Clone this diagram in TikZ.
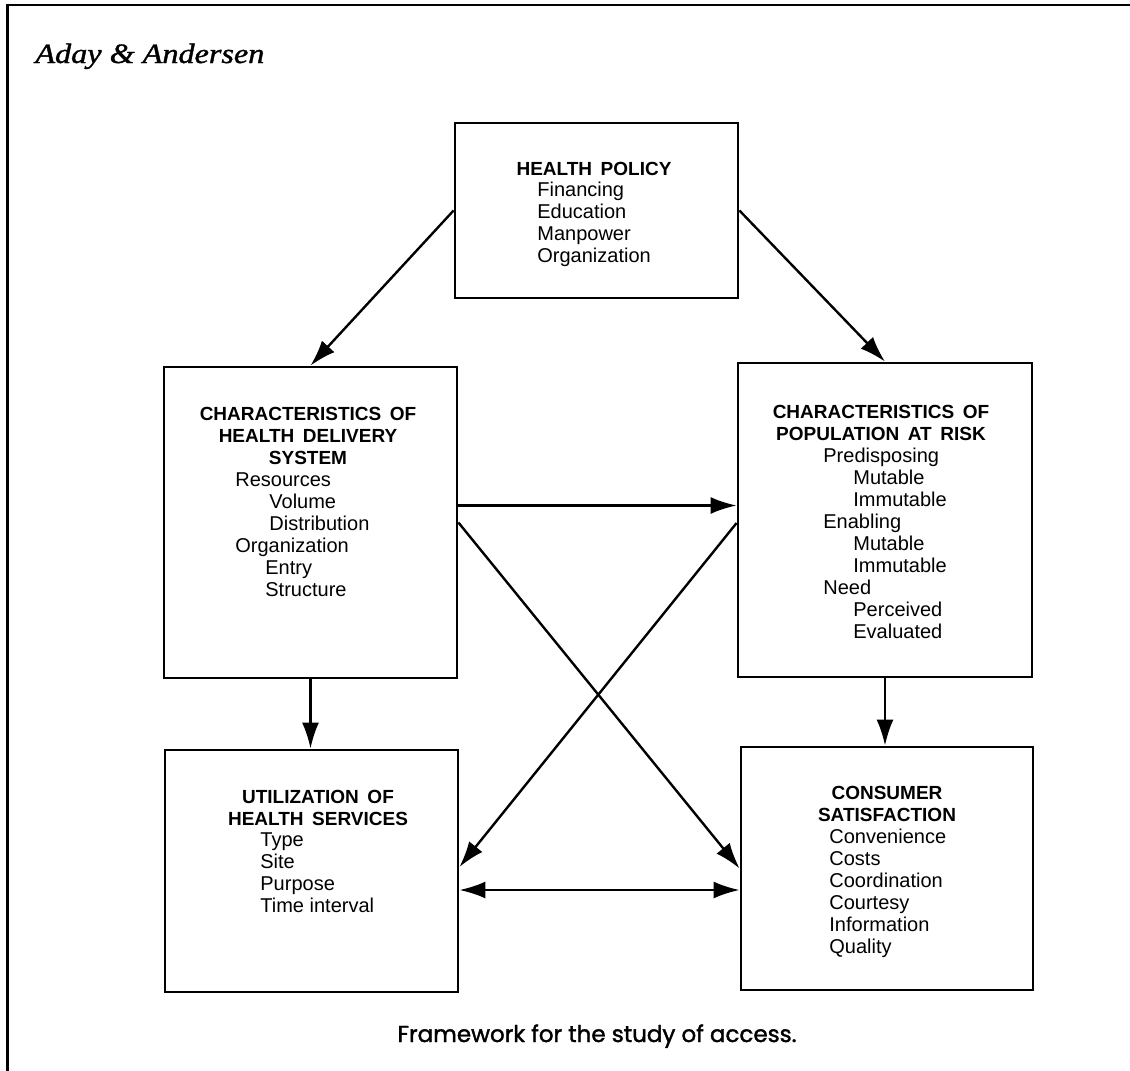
\documentclass[tikz,border=0pt]{standalone}
\usepackage{fontspec}
\setmainfont{Liberation Sans}
\newfontfamily\titlefont[FakeBold=1.2]{Liberation Serif}
\newfontfamily\capfont[FakeBold=1.6]{Poppins}
\usetikzlibrary{arrows.meta,calc}
\tikzset{
  box/.style={draw, line width=1.4pt, inner sep=0pt},
  arr/.style={line width=1.2pt, -{Latex[length=13pt,width=8.5pt]}},
  darr/.style={line width=1.2pt, {Latex[length=13pt,width=8.5pt]}-{Latex[length=13pt,width=8.5pt]}},
  head/.style={inner sep=0pt, anchor=base, font=\fontsize{9.5}{11}\selectfont\bfseries},
  items/.style={inner sep=0pt, anchor=base west, font=\fontsize{10}{11}\selectfont},
}
\newcommand{\ind}{\hspace{15pt}}
\begin{document}
\begin{tikzpicture}[x=0.5pt,y=-0.5pt]
\useasboundingbox (0,0) rectangle (1130,1071);
% frame
\draw[line width=1.1pt] (7.5,1071) -- (7.5,5) -- (1130,5);
% title and caption
\node[anchor=base west, inner sep=0pt] (title) at (35,63)
  {\titlefont\itshape\fontsize{14}{16}\selectfont\scalebox{1.15}[1]{Aday \& Andersen}};
\node[anchor=base, inner sep=0pt] (caption) at (597,1042)
  {\capfont\fontsize{11.5}{13}\selectfont Framework for the study of access.};
% boxes
\node[box, minimum width=141.5pt, minimum height=87.5pt] (hp) at (596.5,210.5) {};
\node[box, minimum width=146.5pt, minimum height=155.5pt] (chds) at (310.5,522.5) {};
\node[box, minimum width=147pt, minimum height=157pt] (cpr) at (885,520) {};
\node[box, minimum width=146.5pt, minimum height=121pt] (util) at (311.5,871) {};
\node[box, minimum width=146pt, minimum height=121.5pt] (cs) at (887,868.5) {};
% texts
\node[head] (hpH) at (594,175) {\begin{tabular}[t]{@{}c@{}}HEALTH\hspace{0.45em}POLICY\end{tabular}};
\node[items] (hpL) at (537,196) {\begin{tabular}[t]{@{}l@{}}Financing\\Education\\Manpower\\Organization\end{tabular}};
\node[head] (chdsH) at (308,420) {\begin{tabular}[t]{@{}c@{}}CHARACTERISTICS\hspace{0.45em}OF\\HEALTH\hspace{0.45em}DELIVERY\\SYSTEM\end{tabular}};
\node[items] (chdsL) at (235,486) {\begin{tabular}[t]{@{}l@{}}Resources\\\hspace{17pt}Volume\\\hspace{17pt}Distribution\\Organization\\\ind Entry\\\ind Structure\end{tabular}};
\node[head] (cprH) at (881,418) {\begin{tabular}[t]{@{}c@{}}CHARACTERISTICS\hspace{0.45em}OF\\POPULATION\hspace{0.45em}AT\hspace{0.45em}RISK\end{tabular}};
\node[items] (cprL) at (823,462) {\begin{tabular}[t]{@{}l@{}}Predisposing\\\ind Mutable\\\ind Immutable\\Enabling\\\ind Mutable\\\ind Immutable\\Need\\\ind Perceived\\\ind Evaluated\end{tabular}};
\node[head] (utilH) at (318,803) {\begin{tabular}[t]{@{}c@{}}UTILIZATION\hspace{0.45em}OF\\HEALTH\hspace{0.45em}SERVICES\end{tabular}};
\node[items] (utilL) at (260,846) {\begin{tabular}[t]{@{}l@{}}Type\\Site\\Purpose\\Time interval\end{tabular}};
\node[head] (csH) at (887,799) {\begin{tabular}[t]{@{}c@{}}CONSUMER\\SATISFACTION\end{tabular}};
\node[items] (csL) at (829,843) {\begin{tabular}[t]{@{}l@{}}Convenience\\Costs\\Coordination\\Courtesy\\Information\\Quality\end{tabular}};
% connectors
\draw[arr] (hp.west) -- (chds.north);
\draw[arr] (hp.east) -- (cpr.north);
\coordinate (h1) at ($(chds.east)+(0,-17)$);
\draw[arr] (h1) -- (h1 -| cpr.west);
\draw[arr] (chds.east) -- (cs.west);
\draw[arr] ($(cpr.west)+(0,3)$) -- ($(util.east)+(0,-4)$);
\coordinate (d1) at ($(util.east)+(0,19)$);
\draw[darr] (d1) -- (d1 -| cs.west);
\draw[arr] (chds.south) -- (chds.south |- util.north);
\draw[arr] (cpr.south) -- (cpr.south |- cs.north);
\end{tikzpicture}
\end{document}
